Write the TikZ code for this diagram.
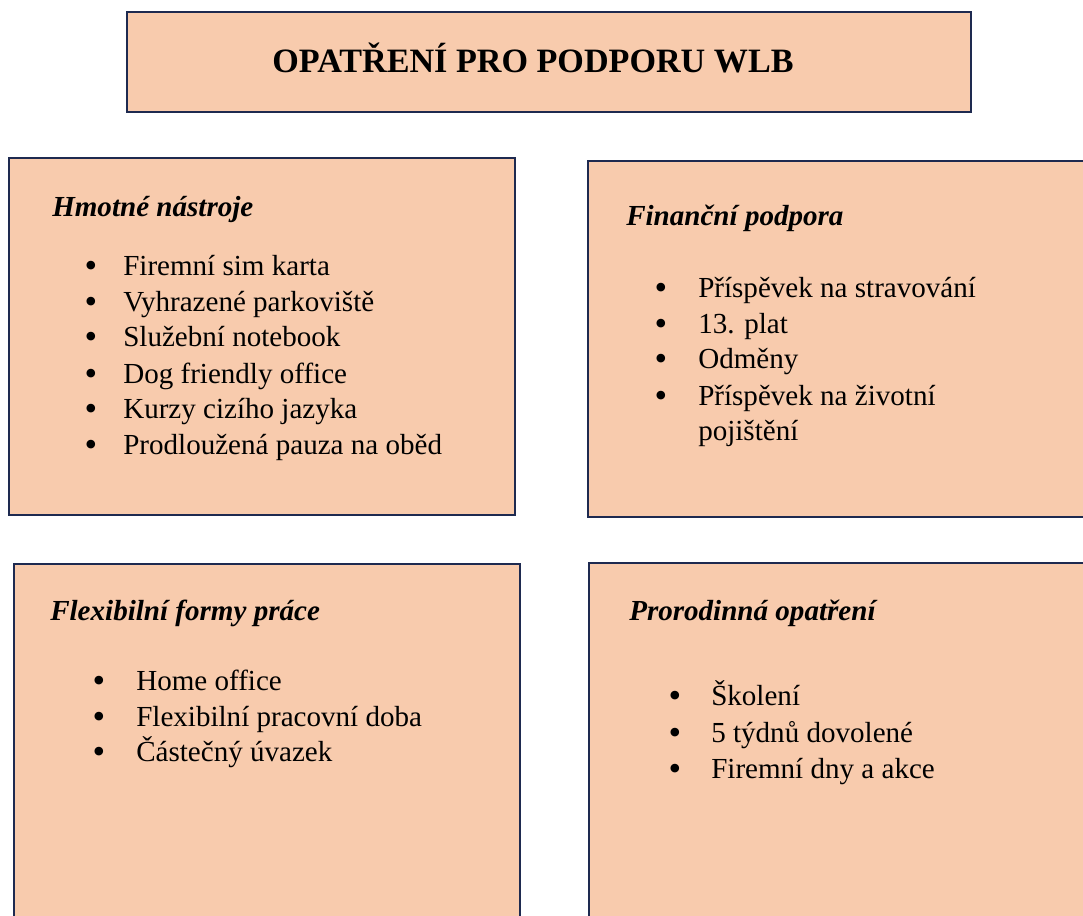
\documentclass[tikz,border=0pt]{standalone}
\usepackage{fontspec}
\setmainfont{Liberation Serif}
\usetikzlibrary{fit}
\definecolor{peach}{HTML}{F8CBAD}
\definecolor{navy}{HTML}{1E2A50}
\tikzset{
  box/.style={draw=navy, line width=2.2pt, fill=peach, inner sep=0pt},
  title/.style={font=\fontsize{25.6}{30}\selectfont\bfseries, anchor=base, inner sep=0pt},
  head/.style={font=\fontsize{21.8}{27}\selectfont\bfseries\itshape, anchor=base west, inner sep=0pt},
  item/.style={font=\fontsize{21.8}{27}\selectfont, anchor=base west, inner sep=0pt},
  bul/.style={font=\fontsize{27}{27}\selectfont, anchor=base, inner sep=0pt}
}
\begin{document}
\begin{tikzpicture}[x=0.75pt,y=-0.75pt]
\useasboundingbox (0,0) rectangle (1083,916);
\clip (0,0) rectangle (1083,916);
% boxes
\node[box, fit={(127,12) (971,112)}] (t) {};
\node[box, fit={(9,158) (515,515)}] (b1) {};
\node[box, fit={(588,161) (1110,517)}] (b2) {};
\node[box, fit={(14,564) (520,940)}] (b3) {};
\node[box, fit={(589,563) (1110,940)}] (b4) {};
% title
\node[title] (tt) at (533,73) {OPATŘENÍ PRO PODPORU WLB};
% box 1
\node[head] (h1) at (52,217) {Hmotné nástroje};
\node[bul] (p11) at (91,278) {\textbullet};
\node[item] (i11) at (123,276) {Firemní sim karta};
\node[bul] (p12) at (91,314) {\textbullet};
\node[item] (i12) at (123,312) {Vyhrazené parkoviště};
\node[bul] (p13) at (91,349) {\textbullet};
\node[item] (i13) at (123,347) {Služební notebook};
\node[bul] (p14) at (91,386) {\textbullet};
\node[item] (i14) at (123,384) {Dog friendly office};
\node[bul] (p15) at (91,421) {\textbullet};
\node[item] (i15) at (123,419) {Kurzy cizího jazyka};
\node[bul] (p16) at (91,457) {\textbullet};
\node[item] (i16) at (123,455) {Prodloužená pauza na oběd};
% box 2
\node[head] (h2) at (626,226) {Finanční podpora};
\node[bul] (p21) at (661,300) {\textbullet};
\node[item] (i21) at (698,298) {Příspěvek na stravování};
\node[bul] (p22) at (661,336) {\textbullet};
\node[item] (i22) at (698,334) {13. plat};
\node[bul] (p23) at (661,371) {\textbullet};
\node[item] (i23) at (698,369) {Odměny};
\node[bul] (p24) at (661,408) {\textbullet};
\node[item] (i24) at (698,406) {Příspěvek na životní};
\node[item] (i25) at (698,441) {pojištění};
% box 3
\node[head] (h3) at (50,620) {Flexibilní formy práce};
\node[bul] (p31) at (99,692) {\textbullet};
\node[item] (i31) at (136,690) {Home office};
\node[bul] (p32) at (99,728) {\textbullet};
\node[item] (i32) at (136,726) {Flexibilní pracovní doba};
\node[bul] (p33) at (99,763) {\textbullet};
\node[item] (i33) at (136,761) {Částečný úvazek};
% box 4
\node[head] (h4) at (629,620) {Prorodinná opatření};
\node[bul] (p41) at (675,707) {\textbullet};
\node[item] (i41) at (711,705) {Školení};
\node[bul] (p42) at (675,744) {\textbullet};
\node[item] (i42) at (711,742) {5 týdnů dovolené};
\node[bul] (p43) at (675,780) {\textbullet};
\node[item] (i43) at (711,778) {Firemní dny a akce};
\end{tikzpicture}
\end{document}
